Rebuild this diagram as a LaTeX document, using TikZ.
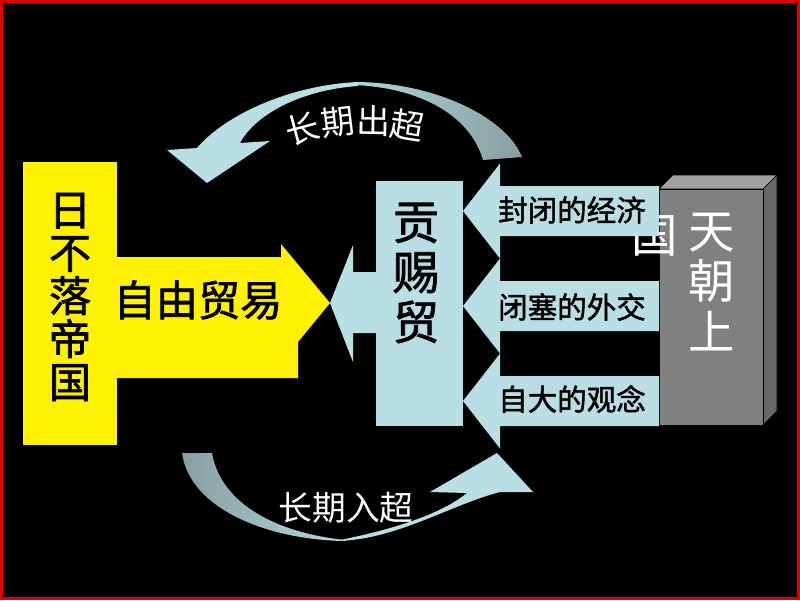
\documentclass[tikz,border=0pt]{standalone}
\usepackage{fontspec}
\setmainfont{Noto Sans CJK SC}
\newfontfamily\medfont[FakeBold=1.6]{Noto Sans CJK SC}
\definecolor{framered}{RGB}{228,0,0}
\definecolor{paleblue}{RGB}{185,223,228}
\definecolor{arcgray}{RGB}{134,158,161}
\definecolor{boxfront}{RGB}{128,128,128}
\definecolor{boxtop}{RGB}{162,162,162}
\definecolor{boxside}{RGB}{104,104,104}
\tikzset{
  vchar/.style={font=\medfont\fontsize{30}{30.6}\selectfont, align=center, inner sep=0pt},
  bigchar/.style={font=\medfont\fontsize{33}{35.6}\selectfont, align=center, inner sep=0pt},
  whitechar/.style={font=\fontsize{33}{35.6}\selectfont, text=white, align=center, inner sep=0pt},
  labelchar/.style={font=\medfont\fontsize{21}{24}\selectfont, inner sep=0pt},
  arcchar/.style={font=\fontsize{24}{26}\selectfont, text=white, inner sep=0pt}
}
\def\sidearrow(#1){\draw[fill=paleblue, draw=none] (500,#1-47.5) -- (463,#1) -- (500,#1+47.5) -- (500,#1+25) -- (659,#1+25) -- (659,#1-25) -- (500,#1-25) -- cycle;}

\begin{document}
\begin{tikzpicture}[x=0.025cm, y=-0.025cm]
			%%%%% START %%%%%
			
			\fill[framered] (0, 0) rectangle (800, 600);
			\fill[black] (3, 3) rectangle (797, 597);
			
			% upper curved arrow
			\shade[left color=paleblue!85!arcgray, right color=arcgray] (355, 82) .. controls (430, 82) and (505, 115) .. (522, 157) -- (483, 160) .. controls (470, 115) and (420, 88) .. (355, 85) -- cycle;
			\fill[paleblue] (197, 148) .. controls (225, 115) and (290, 85) .. (358, 82) -- (358, 86) .. controls (300, 90) and (255, 115) .. (240, 143) -- (270, 141) -- (207, 183) -- (167, 150) -- cycle;
			
			% lower curved arrow
			\shade[left color=arcgray, right color=paleblue!90!arcgray] (182, 453) .. controls (190, 510) and (270, 540) .. (345, 541) -- (345, 540) .. controls (270, 532) and (220, 500) .. (212, 453) -- cycle;
			\fill[paleblue] (340, 541) .. controls (400, 538) and (450, 505) .. (500, 492) -- (533, 492) -- (497, 453) -- (430, 492) -- (467, 493) .. controls (440, 515) and (390, 530) .. (340, 540) -- cycle;
			
			% yellow block
			\fill[yellow] (23, 162) rectangle (117, 445);
			\fill[yellow] (117, 257) -- (281, 257) -- (281, 244) -- (330, 303) -- (298, 342) -- (298, 378) -- (117, 378) -- cycle;
			
			% tribute box
			\fill[paleblue] (330, 303) -- (353, 245) -- (353, 272) -- (376, 272) -- (376, 333) -- (353, 333) -- (353, 362) -- cycle;
			\fill[paleblue] (376, 181) rectangle (463, 426);
			
			% grey block
			\draw[fill=boxtop, line width=0.4pt] (659, 189) -- (673, 175) -- (777, 175) -- (763, 189) -- cycle;
			\draw[fill=boxside, line width=0.4pt] (763, 189) -- (777, 175) -- (777, 411) -- (763, 425) -- cycle;
			\draw[fill=boxfront, line width=0.4pt] (659, 189) rectangle (763, 425);
			
			\node[whitechar] (guo) at (655, 236) {国};
			
			\sidearrow(211);
			\sidearrow(306);
			\sidearrow(401);
			
			\node[vchar] (empire) at (70, 297) {日\\不\\落\\帝\\国};
			\node[vchar] (freetrade) at (198, 300) {自由贸易};
			\node[bigchar] (tribute) at (416, 273) {贡\\赐\\贸};
			\node[whitechar] (celestial) at (712, 282) {天\\朝\\上};
			
			\node[labelchar] (economy) at (572, 210) {封闭的经济};
			\node[labelchar] (diplomacy) at (572, 307) {闭塞的外交};
			\node[labelchar] (outlook) at (572, 399) {自大的观念};
			
			\node[arcchar, rotate=15] (outA) at (302, 129) {长};
			\node[arcchar, rotate=7] (outB) at (338, 122) {期};
			\node[arcchar, rotate=-1] (outC) at (374, 121) {出};
			\node[arcchar, rotate=-9] (outD) at (407, 125) {超};
			
			\node[arcchar] (inflow) at (346, 508) {长期入超};
			
			%%%%% END %%%%%
\end{tikzpicture}
\end{document}
